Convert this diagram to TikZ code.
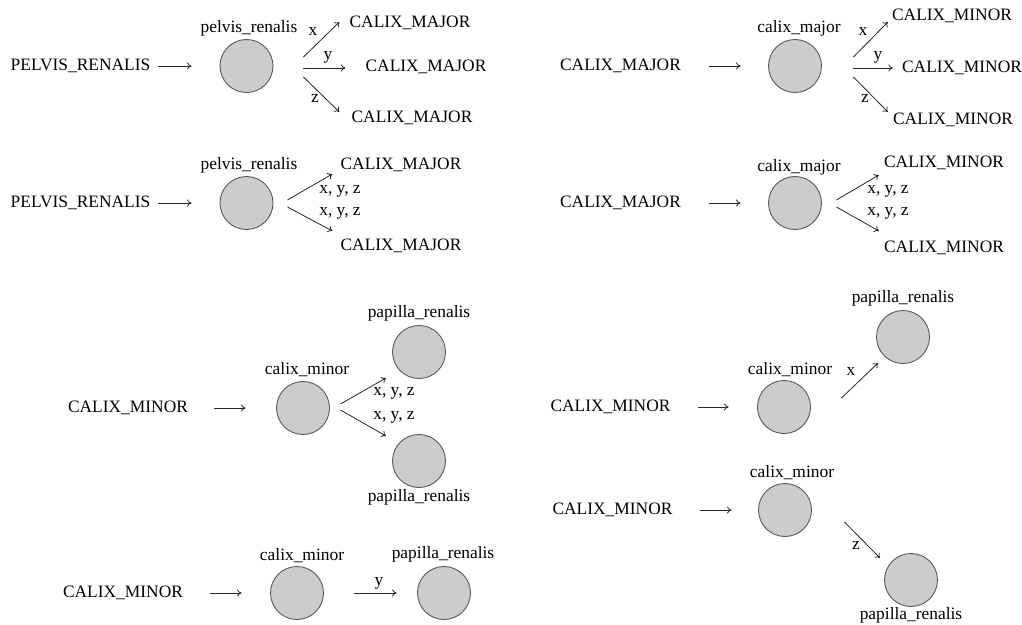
\documentclass[tikz,border=0pt]{standalone}
\usepackage{fontspec}
\setmainfont{Liberation Serif}
\usetikzlibrary{arrows.meta}
\begin{document}
\begin{tikzpicture}[x=1pt,y=-1pt,
  every node/.style={font=\fontsize{17.4}{20}\selectfont,text=black},
  txt/.style={inner sep=0pt},
  lab/.style={inner sep=0pt},
  st/.style={circle,draw=black!65,fill=black!20,line width=0.9pt,minimum size=53pt,inner sep=0pt},
  arr/.style={draw=black!85,line width=0.8pt,-{To[length=4.5pt,width=7pt]}}]
\useasboundingbox (0,0) rectangle (1022,624);

% Row 1, left: pelvis_renalis with x, y, z
\node[txt] (p1) at (80.5,66) {PELVIS\_RENALIS};
\node[st] (c1) at (246.5,66) {};
\node[lab] (c1l) at (249,28) {pelvis\_renalis};
\node[txt] (m1a) at (410,23) {CALIX\_MAJOR};
\node[txt] (m1b) at (426,67) {CALIX\_MAJOR};
\node[txt] (m1c) at (412,118) {CALIX\_MAJOR};
\draw[arr] ([xshift=8]p1.east) -- ([xshift=-28]c1.west);
\draw[arr] ([shift={(30,-9)}]c1.east) -- ([shift={(-10,-1)}]m1a.west);
\draw[arr] ([shift={(30,2)}]c1.east) -- ([shift={(-20,1)}]m1b.west);
\draw[arr] ([shift={(30,11)}]c1.east) -- ([shift={(-12,-6)}]m1c.west);
\node[lab] (l1x) at (313,32) {x};
\node[lab] (l1y) at (328,57) {y};
\node[lab] (l1z) at (315,99) {z};

% Row 2, left: pelvis_renalis with x, y, z on both
\node[txt] (p2) at (80.5,203) {PELVIS\_RENALIS};
\node[st] (c2) at (246.5,203) {};
\node[lab] (c2l) at (249,165) {pelvis\_renalis};
\node[txt] (m2a) at (401,165) {CALIX\_MAJOR};
\node[txt] (m2b) at (401,246) {CALIX\_MAJOR};
\draw[arr] ([xshift=8]p2.east) -- ([xshift=-28]c2.west);
\draw[arr] ([shift={(14,-3)}]c2.east) -- ([shift={(-8,9)}]m2a.west);
\draw[arr] ([shift={(14,4)}]c2.east) -- ([shift={(-8,-15)}]m2b.west);
\node[lab] (l2a) at (340,191) {x, y, z};
\node[lab] (l2b) at (340,213) {x, y, z};

% Row 1, right: calix_major with x, y, z
\node[txt] (t3) at (620.5,66) {CALIX\_MAJOR};
\node[st] (c3) at (795,66) {};
\node[lab] (c3l) at (799,28) {calix\_major};
\node[txt] (n3a) at (952,16) {CALIX\_MINOR};
\node[txt] (n3b) at (962,68) {CALIX\_MINOR};
\node[txt] (n3c) at (953,120) {CALIX\_MINOR};
\draw[arr] ([xshift=28]t3.east) -- ([xshift=-27.5]c3.west);
\draw[arr] ([shift={(31.5,-9)}]c3.east) -- ([shift={(-4,6)}]n3a.west);
\draw[arr] ([shift={(31.5,2)}]c3.east) -- ([shift={(-9,0)}]n3b.west);
\draw[arr] ([shift={(31.5,11)}]c3.east) -- ([shift={(-5,-8)}]n3c.west);
\node[lab] (l3x) at (863,32) {x};
\node[lab] (l3y) at (878,57) {y};
\node[lab] (l3z) at (865,99) {z};

% Row 2, right: calix_major with x, y, z on both
\node[txt] (t4) at (620.5,203) {CALIX\_MAJOR};
\node[st] (c4) at (795,203) {};
\node[lab] (c4l) at (799,167) {calix\_major};
\node[txt] (n4a) at (944,163) {CALIX\_MINOR};
\node[txt] (n4b) at (944,248) {CALIX\_MINOR};
\draw[arr] ([xshift=28]t4.east) -- ([xshift=-27.5]c4.west);
\draw[arr] ([shift={(14.5,-3)}]c4.east) -- ([shift={(-5,12)}]n4a.west);
\draw[arr] ([shift={(14.5,4)}]c4.east) -- ([shift={(-5,-17)}]n4b.west);
\node[lab] (l4a) at (888,191) {x, y, z};
\node[lab] (l4b) at (888,213) {x, y, z};

% Row 3, left: calix_minor to two papillae
\node[txt] (t5) at (128,408) {CALIX\_MINOR};
\node[st] (c5) at (303,408) {};
\node[lab] (c5l) at (307,370) {calix\_minor};
\node[st] (c5a) at (419,352) {};
\node[lab] (c5al) at (419,313) {papilla\_renalis};
\node[st] (c5b) at (419,461) {};
\node[lab] (c5bl) at (419,497) {papilla\_renalis};
\draw[arr] ([xshift=26]t5.east) -- ([xshift=-30.5]c5.west);
\draw[arr] ([shift={(10.5,-4)}]c5.east) -- ([shift={(-33,26)}]c5a.center);
\draw[arr] ([shift={(10.5,2)}]c5.east) -- ([shift={(-33,-25)}]c5b.center);
\node[lab] (l5a) at (394,393) {x, y, z};
\node[lab] (l5b) at (394,417) {x, y, z};

% Row 4, left: calix_minor, y
\node[txt] (t6) at (123,593) {CALIX\_MINOR};
\node[st] (c6) at (297,593) {};
\node[lab] (c6l) at (302,556) {calix\_minor};
\node[st] (c6a) at (444,593) {};
\node[lab] (c6al) at (443,554) {papilla\_renalis};
\draw[arr] ([xshift=27]t6.east) -- ([xshift=-28.5]c6.west);
\draw[arr] ([xshift=30.5]c6.east) -- ([xshift=-20.5]c6a.west);
\node[lab] (l6y) at (379,583) {y};

% Row 3, right: calix_minor, x
\node[txt] (t7) at (610.5,407) {CALIX\_MINOR};
\node[st] (c7) at (784,407) {};
\node[lab] (c7l) at (790,370) {calix\_minor};
\node[st] (c7a) at (903,337) {};
\node[lab] (c7al) at (903,298) {papilla\_renalis};
\draw[arr] ([xshift=27]t7.east) -- ([xshift=-28.5]c7.west);
\draw[arr] ([shift={(30.5,-9)}]c7.east) -- ([shift={(-25,26)}]c7a.center);
\node[lab] (l7x) at (851,372) {x};

% Row 4, right: calix_minor, z
\node[txt] (t8) at (612.5,510) {CALIX\_MINOR};
\node[st] (c8) at (785,510) {};
\node[lab] (c8l) at (792,473) {calix\_minor};
\node[st] (c8a) at (911,580) {};
\node[lab] (c8al) at (911,615) {papilla\_renalis};
\draw[arr] ([xshift=27]t8.east) -- ([xshift=-26.5]c8.west);
\draw[arr] ([shift={(32.5,12)}]c8.east) -- ([shift={(-31,-22)}]c8a.center);
\node[lab] (l8z) at (856,545) {z};
\end{tikzpicture}
\end{document}
